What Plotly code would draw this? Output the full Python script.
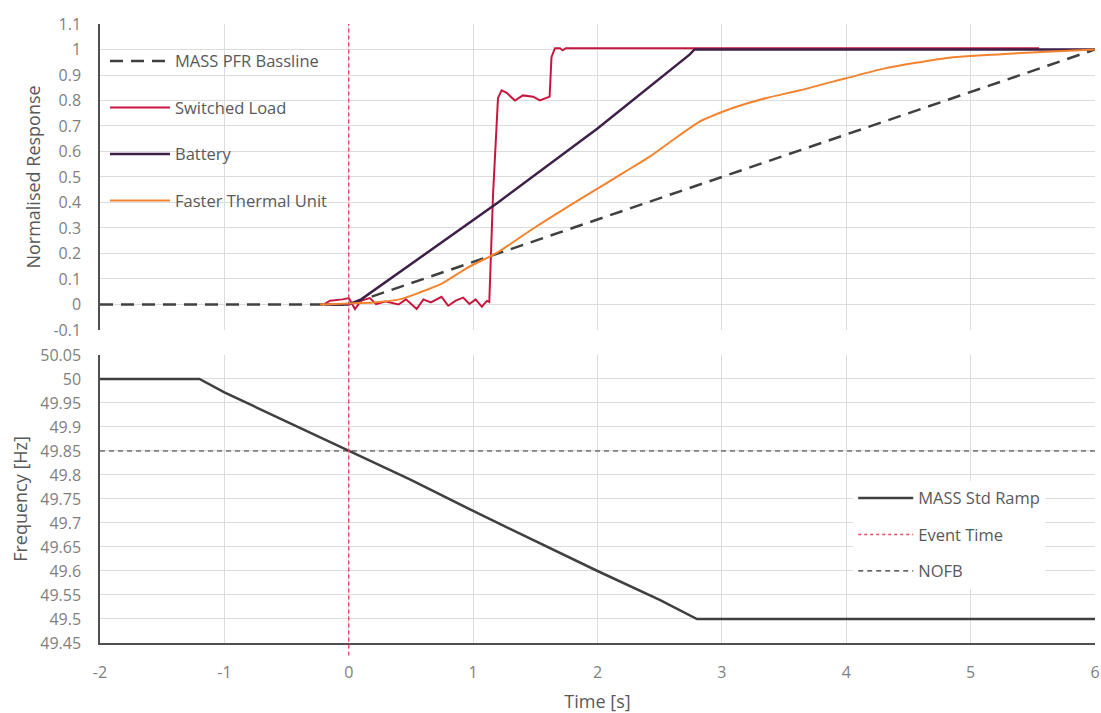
import plotly.graph_objects as go
from plotly.subplots import make_subplots

# ---------------- data ----------------
baseline_x = [-2, 0, 6]
baseline_y = [0, 0, 1.0]

switched_x = [-0.2, -0.15, -0.05, 0.0, 0.05, 0.1, 0.17, 0.22, 0.3, 0.4, 0.46, 0.546, 0.6, 0.66,
              0.746, 0.8, 0.86, 0.92, 0.97, 1.02, 1.07, 1.11, 1.13, 1.16, 1.20, 1.229, 1.27,
              1.336, 1.40, 1.483, 1.537, 1.615, 1.63, 1.658, 1.698, 1.72, 1.745, 5.55]
switched_y = [0.0, 0.015, 0.02, 0.025, -0.018, 0.015, 0.025, 0.001, 0.012, 0.0, 0.02, -0.018,
              0.02, 0.008, 0.03, -0.005, 0.015, 0.027, 0.002, 0.02, -0.009, 0.014, 0.01, 0.43,
              0.81, 0.84, 0.83, 0.80, 0.82, 0.815, 0.80, 0.815, 0.97, 1.005, 1.005, 0.997,
              1.005, 1.005]

battery_x = [-0.2, 0.0, 0.1, 1.2, 2.0, 2.6, 2.68, 2.74, 2.78, 6.0]
battery_y = [0.0, 0.0, 0.02, 0.40, 0.69, 0.925, 0.955, 0.98, 1.0, 1.0]

thermal_x = [-0.23, 0.0, 0.2, 0.41, 0.57, 0.76, 0.95, 1.1, 1.2, 1.49, 1.75, 2.02, 2.22, 2.42,
             2.62, 2.82, 2.9, 3.0, 3.18, 3.36, 3.63, 3.9, 4.0, 4.3, 4.83, 5.37, 5.7, 6.0]
thermal_y = [0.0, 0.004, 0.008, 0.02, 0.047, 0.085, 0.143, 0.18, 0.205, 0.30, 0.38, 0.46, 0.52,
             0.58, 0.65, 0.717, 0.735, 0.755, 0.785, 0.81, 0.84, 0.875, 0.887, 0.925, 0.968,
             0.985, 0.993, 1.0]

freq_x = [-2, -1.2, -1.0, -0.3, 0.0, 0.5, 1.0, 1.5, 2.0, 2.5, 2.8, 6.0]
freq_y = [50.0, 50.0, 49.972, 49.887, 49.85, 49.79, 49.725, 49.662, 49.6, 49.54, 49.5, 49.5]

nofb_x = [-2, 6]
nofb_y = [49.85, 49.85]

event_time = 0

top_ticks = [-0.1, 0, 0.1, 0.2, 0.3, 0.4, 0.5, 0.6, 0.7, 0.8, 0.9, 1.0, 1.1]
top_ticktext = ["-0.1", "0", "0.1", "0.2", "0.3", "0.4", "0.5", "0.6", "0.7", "0.8", "0.9", "1", "1.1"]
bot_ticks = [49.45, 49.5, 49.55, 49.6, 49.65, 49.7, 49.75, 49.8, 49.85, 49.9, 49.95, 50.0, 50.05]
bot_ticktext = ["49.45", "49.5", "49.55", "49.6", "49.65", "49.7", "49.75", "49.8", "49.85",
                "49.9", "49.95", "50", "50.05"]
x_ticks = [-2, -1, 0, 1, 2, 3, 4, 5, 6]
x_ticktext = ["-2", "-1", "0", "1", "2", "3", "4", "5", "6"]

# ---------------- figure ----------------
FONT = "Open Sans"
TXT = "#595959"
TICK = "#7f7f7f"
GRID = "#dcdcdc"
TICKSIZE = 16
TITLESIZE = 18
LEGSIZE = 16.5
EVENT_COLOR = "#e04a6c"

fig = make_subplots(rows=2, cols=1, shared_xaxes=False, vertical_spacing=0.04)

fig.add_trace(go.Scatter(x=baseline_x, y=baseline_y, mode="lines", name="MASS PFR Bassline",
                         line=dict(color="#404040", width=2.5, dash="13px,8px"),
                         legend="legend", legendgroup="a"), row=1, col=1)
fig.add_trace(go.Scatter(x=switched_x, y=switched_y, mode="lines", name="Switched Load",
                         line=dict(color="#c8173f", width=2),
                         legend="legend", legendgroup="b"), row=1, col=1)
fig.add_trace(go.Scatter(x=battery_x, y=battery_y, mode="lines", name="Battery",
                         line=dict(color="#3e1f48", width=2.5),
                         legend="legend", legendgroup="c"), row=1, col=1)
fig.add_trace(go.Scatter(x=thermal_x, y=thermal_y, mode="lines", name="Faster Thermal Unit",
                         line=dict(color="#f3832f", width=2, shape="spline", smoothing=0.6),
                         legend="legend", legendgroup="d"), row=1, col=1)

fig.add_trace(go.Scatter(x=freq_x, y=freq_y, mode="lines", name="MASS Std Ramp",
                         line=dict(color="#404040", width=2.5),
                         legend="legend2", legendgroup="e"), row=2, col=1)
fig.add_trace(go.Scatter(x=[None], y=[None], mode="lines", name="Event Time",
                         line=dict(color=EVENT_COLOR, width=1.4, dash="3px,3px"),
                         legend="legend2", legendgroup="f"), row=2, col=1)
fig.add_trace(go.Scatter(x=nofb_x, y=nofb_y, mode="lines", name="NOFB",
                         line=dict(color="#303030", width=1.2, dash="5px,4px"),
                         legend="legend2", legendgroup="g"), row=2, col=1)

# event time vertical line spanning both panels
fig.add_shape(type="line", xref="x", yref="paper", x0=event_time, x1=event_time,
              y0=-0.02, y1=1.0, line=dict(color=EVENT_COLOR, width=1.4, dash="4px,3px"))

axis_common = dict(showgrid=True, gridcolor=GRID, gridwidth=1, zeroline=False,
                   tickfont=dict(family=FONT, size=TICKSIZE, color=TICK), ticks="",
                   ticklabelstandoff=14, automargin=False)

fig.update_xaxes(range=[-2, 6], tickvals=x_ticks, ticktext=x_ticktext, showticklabels=False,
                 showline=False, domain=[0, 1], row=1, col=1, **axis_common)
fig.update_xaxes(range=[-2, 6], tickvals=x_ticks, ticktext=x_ticktext, showticklabels=True,
                 showline=True, linecolor="#505050", linewidth=1.5,
                 title=dict(text="Time [s]", font=dict(family=FONT, size=TITLESIZE, color=TXT), standoff=17),
                 domain=[0, 1], row=2, col=1, **axis_common)

fig.update_yaxes(range=[-0.1, 1.1], tickvals=top_ticks, ticktext=top_ticktext,
                 showline=True, linecolor="#505050", linewidth=1.5,
                 title=dict(text="Normalised Response", font=dict(family=FONT, size=TITLESIZE, color=TXT), standoff=8),
                 domain=[0.5057, 1.0], row=1, col=1, **axis_common)
fig.update_yaxes(range=[49.45, 50.05], tickvals=bot_ticks, ticktext=bot_ticktext,
                 showline=True, linecolor="#505050", linewidth=1.5,
                 title=dict(text="Frequency [Hz]", font=dict(family=FONT, size=TITLESIZE, color=TXT), standoff=8),
                 domain=[0, 0.4653], row=2, col=1, **axis_common)

fig.update_layout(
    width=1101, height=713,
    margin=dict(l=100, r=6, t=24, b=70),
    paper_bgcolor="white", plot_bgcolor="white",
    font=dict(family=FONT, size=14, color=TXT),
    legend=dict(x=0.005, y=0.968, xanchor="left", yanchor="top", bgcolor="rgba(255,255,255,0)",
                font=dict(family=FONT, size=LEGSIZE, color=TXT), itemwidth=60, tracegroupgap=22,
                itemclick=False),
    legend2=dict(x=0.757, y=0.262, xanchor="left", yanchor="top", bgcolor="white",
                 font=dict(family=FONT, size=LEGSIZE, color=TXT), itemwidth=55, tracegroupgap=12,
                 itemclick=False),
)

fig.write_html("out.html")
